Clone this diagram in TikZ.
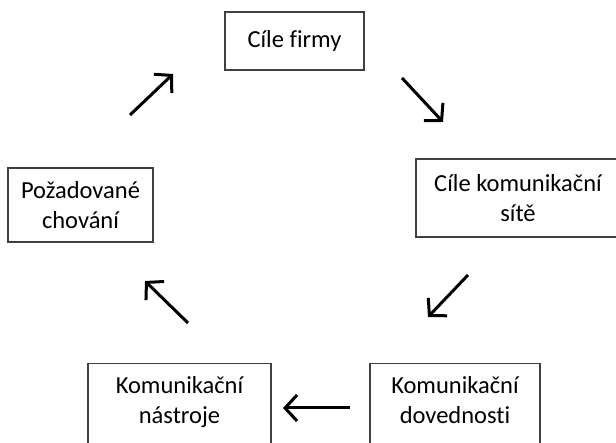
\documentclass[tikz,border=0pt]{standalone}
\usepackage{fontspec}
\setmainfont{Carlito}[Ligatures=NoCommon]
\usetikzlibrary{arrows.meta}
\tikzset{
      box/.style={draw=black!75, line width=1.5pt, align=center, inner xsep=0pt,
            font=\fontsize{24.5}{30}\selectfont},
      flow/.style={draw=black, line width=3pt, -{Straight Barb[length=12pt, width=26pt]}},
}
\begin{document}
\begin{tikzpicture}[x=1pt, y=1pt]
        \clip (0,0) rectangle (616,443);
        \useasboundingbox (0,0) rectangle (616,443);

        % the boxes
        \node[box, minimum width=139pt, minimum height=58pt] (firmy) at (294.5,402) {Cíle firmy};
        \node[box, minimum width=204pt, minimum height=78pt] (site) at (518,245) {Cíle komunikační\\sítě};
        \node[box, minimum width=145pt, minimum height=74pt] (chovani) at (80.5,238) {Požadované\\chování};
        \node[box, minimum width=183pt, inner ysep=13pt, text depth=40pt, anchor=north] (nastroje) at (179.5,80) {Komunikační\\nástroje};
        \node[box, minimum width=170pt, inner ysep=13pt, text depth=40pt, anchor=north] (dovednosti) at (455,80) {Komunikační\\dovednosti};

        % the arrows
        \coordinate (a1) at (130,328); \coordinate (b1) at (173,369);
        \coordinate (a2) at (402,365); \coordinate (b2) at (443,321);
        \coordinate (a3) at (468,168); \coordinate (b3) at (428,126);
        \coordinate (a4) at (350,35);  \coordinate (b4) at (283,35);
        \coordinate (a5) at (188,120); \coordinate (b5) at (145,162);

        \draw[flow] (a1) -- (b1);
        \draw[flow] (a2) -- (b2);
        \draw[flow] (a3) -- (b3);
        \draw[flow] (a4) -- (b4);
        \draw[flow] (a5) -- (b5);

    \end{tikzpicture}
\end{document}
